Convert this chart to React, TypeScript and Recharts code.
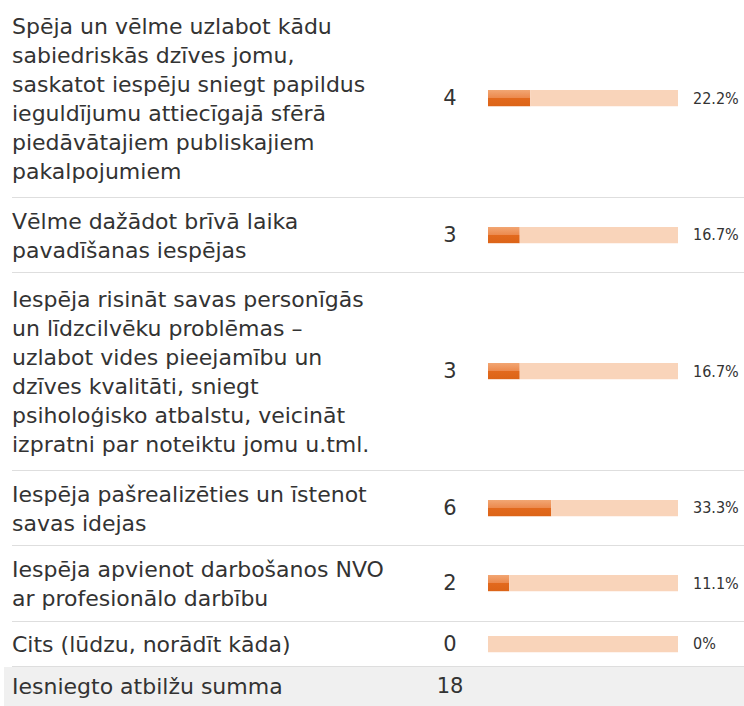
import React from "react"
import { BarChart, Bar, XAxis, YAxis } from "recharts"

// survey answers (line breaks as in the original layout)
const labels = [
  "Spēja un vēlme uzlabot kādu\nsabiedriskās dzīves jomu,\nsaskatot iespēju sniegt papildus\nieguldījumu attiecīgajā sfērā\npiedāvātajiem publiskajiem\npakalpojumiem",
  "Vēlme dažādot brīvā laika\npavadīšanas iespējas",
  "Iespēja risināt savas personīgās\nun līdzcilvēku problēmas –\nuzlabot vides pieejamību un\ndzīves kvalitāti, sniegt\npsiholoģisko atbalstu, veicināt\nizpratni par noteiktu jomu u.tml.",
  "Iespēja pašrealizēties un īstenot\nsavas idejas",
  "Iespēja apvienot darbošanos NVO\nar profesionālo darbību",
  "Cits (lūdzu, norādīt kāda)",
]
const counts = [4, 3, 3, 6, 2, 0]
const percents = [22.2, 16.7, 16.7, 33.3, 11.1, 0]
const totalLabel = "Iesniegto atbilžu summa"
const total = 18

const FONT = "'DejaVu Sans', sans-serif"

const formatPct = (v: number) => (v === 0 ? "0%" : `${v.toFixed(1)}%`)

function RowBar({ value, index }: { value: number; index: number }) {
  // filled part + remaining part stacked to 100%
  const data = [{ name: "row", value, rest: 100 - value }]
  const gid = `barGrad${index}`
  return (
    <BarChart width={190} height={18} data={data} layout="vertical" margin={{ top: 0, right: 0, bottom: 0, left: 0 }}>
      <defs>
        <linearGradient id={gid} x1="0" y1="0" x2="0" y2="1">
          <stop offset="0%" stopColor="#f2a673" />
          <stop offset="48%" stopColor="#ec8a4e" />
          <stop offset="52%" stopColor="#e2691d" />
          <stop offset="100%" stopColor="#dc6418" />
        </linearGradient>
      </defs>
      <XAxis type="number" domain={[0, 100]} hide />
      <YAxis type="category" dataKey="name" hide />
      <Bar dataKey="value" stackId="a" fill={`url(#${gid})`} barSize={18} isAnimationActive={false} />
      <Bar dataKey="rest" stackId="a" fill="#f9d4ba" barSize={18} isAnimationActive={false} />
    </BarChart>
  )
}

export default function App() {
  return (
    <div style={{ position: "absolute", left: 0, top: 0, width: 744, height: 706, overflow: "hidden", background: "#fff", fontFamily: FONT, color: "#333" }}>
      {labels.map((label, i) => {
        const lines = label.split("\n").length
        const h = 14.5 + 30.5 * lines
        return (
          <div
            key={i}
            style={{
              position: "relative",
              marginLeft: 12,
              height: h,
              boxSizing: "border-box",
              borderBottom: "1px solid #dedede",
              display: "flex",
              alignItems: "center",
            }}
          >
            <div style={{ width: 400, fontSize: 22, lineHeight: "29px", whiteSpace: "pre-line", paddingTop: 2 }}>{label}</div>
            <div style={{ position: "absolute", left: 410, width: 56, textAlign: "center", fontSize: 21 }}>{counts[i]}</div>
            <div style={{ position: "absolute", left: 476, top: (h - 18) / 2 - 0.5, height: 18 }}>
              <RowBar value={percents[i]} index={i} />
            </div>
            <div style={{ position: "absolute", left: 681, fontSize: 16, fontFamily: "'DejaVu Sans Condensed', 'DejaVu Sans', sans-serif" }}>
              {formatPct(percents[i])}
            </div>
          </div>
        )
      })}
      <div style={{ marginLeft: 4, height: 46, background: "#f0f0f0", display: "flex", alignItems: "center", position: "relative" }}>
        <div style={{ marginLeft: 8, fontSize: 22, paddingBottom: 6 }}>{totalLabel}</div>
        <div style={{ position: "absolute", left: 418, top: 7, width: 56, textAlign: "center", fontSize: 21 }}>{total}</div>
      </div>
    </div>
  )
}
